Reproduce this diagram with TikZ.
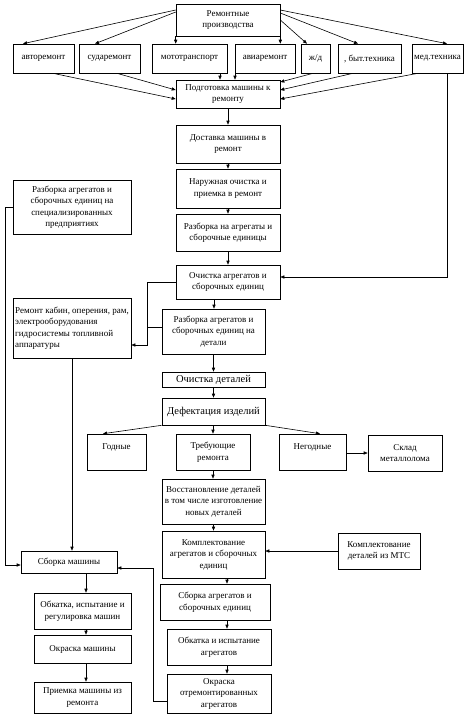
\documentclass[tikz,border=0pt]{standalone}
\usepackage{fontspec}
\setmainfont{Liberation Serif}
\usetikzlibrary{arrows.meta}
\tikzset{
  box/.style={draw=black, line width=0.6pt, inner sep=0pt, align=center,
    font=\fontsize{9}{11.5}\selectfont},
  big/.style={font=\fontsize{10.5}{12}\selectfont},
  arr/.style={draw=black, line width=0.6pt, -{Triangle[length=4pt,width=3.2pt]}},
  ln/.style={draw=black, line width=0.6pt}
}
\newcommand\bx[7][]{%
  \pgfmathsetmacro\bxw{#5-#3}%
  \pgfmathsetmacro\bxh{#6-#4}%
  \node[box, minimum width=\bxw pt, minimum height=\bxh pt, #1]
    (#2) at ({(#3+#5)/2},{(#4+#6)/2}) {#7};}
\begin{document}
\begin{tikzpicture}[x=1pt,y=-1pt]
\useasboundingbox[fill=white] (0,0) rectangle (469,721);
% top rows
\bx{top}{176}{4}{280}{36}{Ремонтные\\производства}
\bx{avto}{13}{44}{74}{73}{авторемонт}
\bx{sudo}{79}{44}{140}{73}{сударемонт}
\bx{moto}{152}{44}{227}{73}{мототранспорт}
\bx{avia}{235}{44}{295}{73}{авиаремонт}
\bx{zd}{301}{44}{330}{73}{ж/д}
\bx{byt}{338}{44}{401}{73}{, быт.техника}
\bx{med}{412}{44}{463}{73}{мед.техника}
% main column
\bx{podg}{176}{80}{280}{108}{Подготовка машины к\\ремонту}
\bx{dost}{176}{125}{280}{163}{Доставка машины в\\ремонт}
\bx{naruzh}{176}{169}{280}{208}{Наружная очистка и\\приемка в ремонт}
\bx{razb1}{176}{214}{280}{251}{Разборка на агрегаты и\\сборочные единицы}
\bx{ochA}{176}{265}{280}{299}{Очистка агрегатов и\\сборочных единиц}
\bx{razbD}{162}{309}{265}{354}{Разборка агрегатов и\\сборочных единиц на\\детали}
\bx[big]{ochD}{162}{372}{265}{387}{Очистка деталей}
\bx[big]{def}{162}{398}{265}{425}{Дефектация изделий}
\bx{godn}{87}{434}{146}{470}{Годные\\\mbox{}}
\bx{treb}{176}{434}{250}{470}{Требующие\\ремонта}
\bx{negod}{279}{434}{346}{470}{Негодные\\\mbox{}}
\bx{sklad}{368}{435}{442}{471}{Склад\\металлолома}
\bx{vosst}{162}{479}{265}{524}{Восстановление деталей\\в том числе изготовление\\новых деталей}
\bx{komplA}{162}{531}{265}{578}{Комплектование\\агрегатов и сборочных\\единиц}
\bx{komplM}{338}{533}{420}{569}{Комплектование\\деталей из МТС}
\bx{sborA}{160}{584}{270}{620}{Сборка агрегатов и\\сборочных единиц}
\bx{obkA}{167}{629}{271}{665}{Обкатка и испытание\\агрегатов}
\bx{okrA}{167}{674}{271}{713}{Окраска\\отремонтированных\\агрегатов}
% left column
\bx{leftS}{13}{180}{131}{234}{Разборка агрегатов и\\сборочных единиц на\\специализированных\\предприятиях}
\bx[align=left]{remK}{13}{298}{131}{358}{Ремонт кабин, оперения, рам,\\электрооборудования\\гидросистемы топливной\\аппаратуры}
\bx{sborM}{21}{551}{117}{573}{Сборка машины}
\bx{obkM}{34}{593}{131}{629}{Обкатка, испытание и\\регулировка машин}
\bx{okrM}{34}{635}{131}{663}{Окраска машины}
\bx{priem}{34}{682}{131}{713}{Приемка машины из\\ремонта}
% connectors: top
\draw[arr] (top.west |- 0,10) -- (23,0 |- avto.north);
\draw[arr] (top.west |- 0,12) -- (95,0 |- sudo.north);
\draw[arr] (top.south west) -- (moto.north -| top.west);
\draw[arr] (top.south east) -- (avia.north -| top.east);
\draw[arr] (top.east |- 0,20) -- (307,0 |- zd.north);
\draw[arr] (top.east |- 0,13) -- (358,0 |- byt.north);
\draw[arr] (top.east |- 0,10) -- (447,0 |- med.north);
% into podg
\draw[arr] (53,0 |- avto.south) -- (podg.west |- 0,99);
\draw[arr] (117,0 |- sudo.south) -- (podg.west |- 0,90);
\draw[arr] (220,0 |- moto.south) -- (220,0 |- podg.north);
\draw[arr] (235,0 |- avia.south) -- (235,0 |- podg.north);
\draw[arr] (313,0 |- zd.south) -- (podg.east |- 0,82);
\draw[arr] (353,0 |- byt.south) -- (podg.east |- 0,90);
\draw[arr] (418,0 |- med.south) -- (podg.east |- 0,99);
% main chain
\draw[arr] (podg.south) -- (dost.north);
\draw[arr] (dost.south) -- (naruzh.north);
\draw[arr] (naruzh.south) -- (razb1.north);
\draw[arr] (razb1.south) -- (ochA.north);
\draw[arr] (447,0 |- med.south) |- (ochA.east |- 0,277);
\draw[arr] (214,0 |- ochA.south) -- (214,0 |- razbD.north);
\draw[arr] (ochA.west |- 0,282) -- (147,282) |- (remK.east |- 0,345);
\draw[ln] (razbD.west |- 0,327) -- (147,327);
\draw[arr] (razbD.south) -- (ochD.north);
\draw[arr] (ochD.south) -- (def.north);
\draw[arr] (def.south -| treb.south) -- (treb.north);
\draw[arr] (def.south west) -- (103,0 |- godn.north);
\draw[arr] (def.south east) -- (320,0 |- negod.north);
\draw[arr] (negod.east |- 0,453) -- (sklad.west |- 0,453);
\draw[arr] (treb.south) -- (treb.south |- vosst.north);
\draw[arr] (vosst.south) -- (komplA.north);
\draw[arr] (komplM.west) -- (komplA.east |- komplM.west);
\draw[arr] (227,0 |- komplA.south) -- (227,0 |- sborA.north);
\draw[arr] (227,0 |- sborA.south) -- (227,0 |- obkA.north);
\draw[arr] (227,0 |- obkA.south) -- (227,0 |- okrA.north);
\draw[arr] (okrA.west |- 0,701) -- (153,701) |- (sborM.east |- 0,568);
% left chain
\draw[arr] (leftS.west |- 0,207) -- (5,207) |- (sborM.west |- 0,565);
\draw[arr] (72,0 |- remK.south) -- (72,0 |- sborM.north);
\draw[arr] (86,0 |- sborM.south) -- (86,0 |- obkM.north);
\draw[arr] (86,0 |- obkM.south) -- (86,0 |- okrM.north);
\draw[arr] (86,0 |- okrM.south) -- (86,0 |- priem.north);
\end{tikzpicture}
\end{document}
